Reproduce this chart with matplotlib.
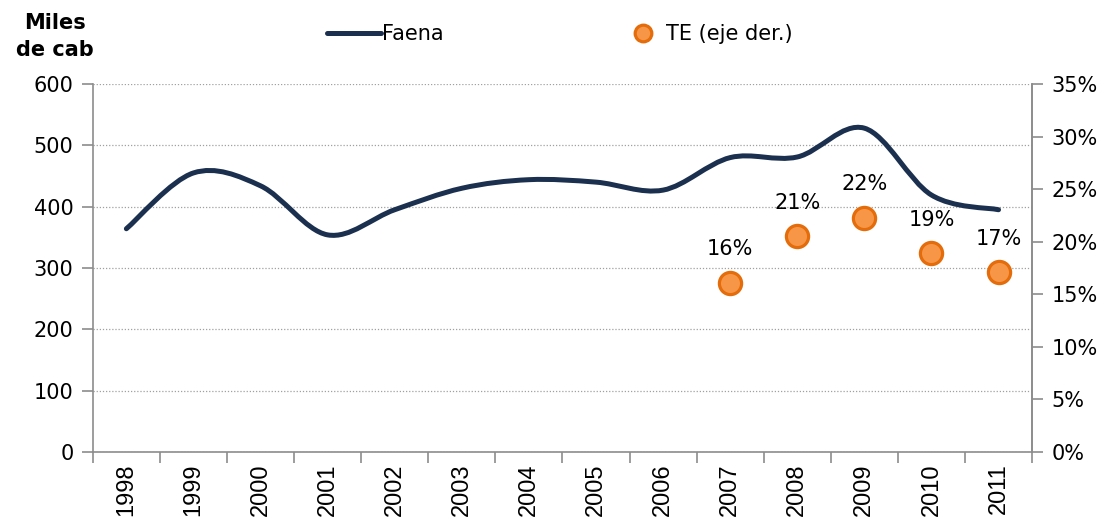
import matplotlib
matplotlib.use("Agg")
import matplotlib.pyplot as plt
from matplotlib.path import Path
from matplotlib.patches import PathPatch
from matplotlib.lines import Line2D
import numpy as np

years = ["1998", "1999", "2000", "2001", "2002", "2003", "2004",
         "2005", "2006", "2007", "2008", "2009", "2010", "2011"]
faena = [364, 455, 434, 354, 395, 430, 444, 440, 427, 480, 481, 528, 419, 395]
te_years = ["2007", "2008", "2009", "2010", "2011"]
te = [16.1, 20.5, 22.3, 18.9, 17.1]
te_labels = ["16%", "21%", "22%", "19%", "17%"]

navy = "#1B2F4E"
orange_fill = "#F79646"
orange_edge = "#E46C0A"
gray = "#8C8C8C"

plt.rcParams["font.family"] = ["DejaVu Sans"]


def smooth_path(xs, ys):
    # bezier segments like excel's smoothed line
    pts = np.column_stack([xs, ys]).astype(float)
    verts = [pts[0]]
    codes = [Path.MOVETO]
    n = len(pts)
    for i in range(n - 1):
        p0 = pts[i - 1] if i > 0 else pts[i]
        p1 = pts[i]
        p2 = pts[i + 1]
        p3 = pts[i + 2] if i + 2 < n else pts[i + 1]
        c1 = p1 + (p2 - p0) / 6.0
        c2 = p2 - (p3 - p1) / 6.0
        verts += [c1, c2, p2]
        codes += [Path.CURVE4] * 3
    return Path(verts, codes)


fig = plt.figure(figsize=(11.05, 5.26), dpi=100)
ax = fig.add_axes([0.084, 0.1407, 0.85, 0.6996])
ax2 = ax.twinx()

x = np.arange(len(years))
ax.add_patch(PathPatch(smooth_path(x, faena), facecolor="none", edgecolor=navy,
                       lw=3.6, capstyle="round", zorder=3))

te_x = [years.index(y) for y in te_years]
ax2.plot(te_x, te, linestyle="none", marker="o", markersize=16,
         markerfacecolor=orange_fill, markeredgecolor=orange_edge,
         markeredgewidth=2.3, zorder=4)
for xi, v, lab in zip(te_x, te, te_labels):
    ax2.annotate(lab, (xi, v), xytext=(0, 17), textcoords="offset points",
                 ha="center", va="bottom", fontsize=15, color="black")

ax.set_xlim(-0.5, len(years) - 0.5)
ax.set_ylim(0, 600)
ax2.set_ylim(0, 35)

ax.set_yticks(range(0, 601, 100))
ax.tick_params(axis="y", labelsize=15, length=8, color=gray, width=1.2, pad=6)
ax.yaxis.grid(True, linestyle=(0, (1, 1.5)), color="#A0A0A0", lw=0.9)
ax.set_axisbelow(True)

ax2.set_yticks(range(0, 36, 5))
ax2.set_yticklabels([f"{v}%" for v in range(0, 36, 5)])
ax2.tick_params(axis="y", labelsize=15, length=8, color=gray, width=1.2, pad=6)

ax.set_xticks(x)
ax.set_xticklabels(years, rotation=90, fontsize=17, family="Liberation Sans")
ax.set_xticks(np.arange(-0.5, len(years), 1), minor=True)
ax.tick_params(axis="x", which="major", length=0, pad=8)
ax.tick_params(axis="x", which="minor", length=8, color=gray, width=1.2)

for a in (ax, ax2):
    a.spines["top"].set_visible(False)
    for s in ("left", "right", "bottom"):
        a.spines[s].set_color(gray)
        a.spines[s].set_linewidth(1.2)
ax2.spines["left"].set_visible(False)
ax2.spines["bottom"].set_visible(False)

fig.text(0.05, 1 - 60 / 526, "Miles\nde cab", ha="center", va="bottom", fontsize=15,
         fontweight="bold", linespacing=1.45)

h_faena = Line2D([], [], color=navy, lw=3.6, solid_capstyle="round")
h_te = Line2D([], [], linestyle="none", marker="o", markersize=12,
              markerfacecolor=orange_fill, markeredgecolor=orange_edge, markeredgewidth=2.3)
leg1 = fig.legend([h_faena], ["Faena"], loc="center left",
                  bbox_to_anchor=(0.288, 0.935), frameon=False, fontsize=15,
                  handlelength=2.6, handletextpad=0.05, borderaxespad=0)
leg2 = fig.legend([h_te], ["TE (eje der.)"], loc="center left",
                  bbox_to_anchor=(0.565, 0.935), frameon=False, fontsize=15,
                  handlelength=1.0, handletextpad=0.6, borderaxespad=0)

fig.savefig("out.png", dpi=100)
